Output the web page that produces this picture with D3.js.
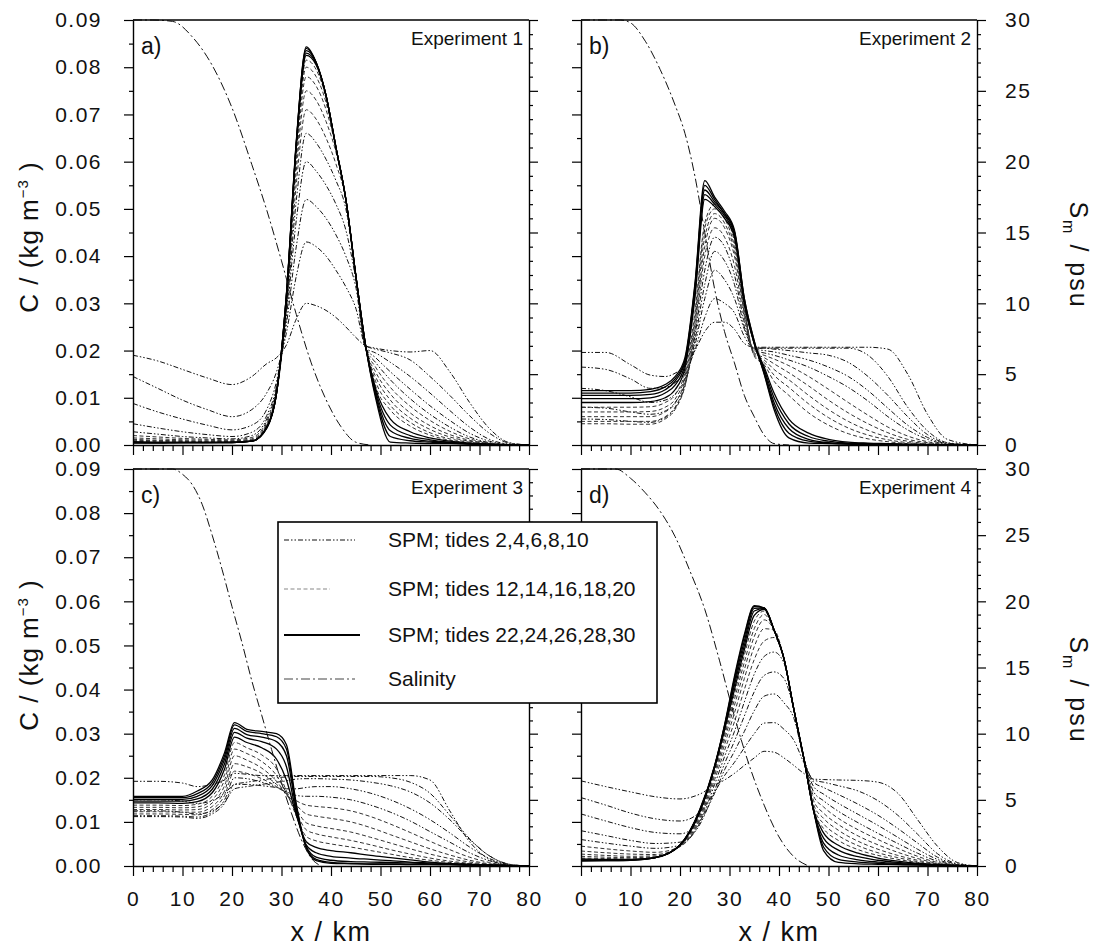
<!DOCTYPE html>
<html><head><meta charset="utf-8">
<script src="https://cdn.jsdelivr.net/npm/d3@7"></script>
<style>
body{margin:0;background:#fff;}
svg text{font-family:"Liberation Sans",Arial,Helvetica,sans-serif;fill:#111;}
</style></head><body>
<svg id="chart" width="1101" height="949"></svg>
<script>
// ---------- categories / ticks ----------
const tides = [2,4,6,8,10,12,14,16,18,20,22,24,26,28,30];
const xTicks = [0,10,20,30,40,50,60,70,80];
const cTicks = [0,0.01,0.02,0.03,0.04,0.05,0.06,0.07,0.08,0.09];
const sTicks = [0,5,10,15,20,25,30];
const panelLabels = ["a)","b)","c)","d)"];
const panelTitles = ["Experiment 1","Experiment 2","Experiment 3","Experiment 4"];
const legendLabels = ["SPM; tides 2,4,6,8,10","SPM; tides 12,14,16,18,20","SPM; tides 22,24,26,28,30","Salinity"];

// ---------- Experiment 1 (SPM, kg m-3) ----------
const xA = [0,5,10,15,20,24,27,29,31,33,35,37,39,41,43,45,47,49,52,56,60,64,68,72,76,80];
const spmA = [
 [.019,.0178,.016,.0142,.0128,.0145,.0172,.0185,.0212,.0267,.030,.0295,.0285,.027,.025,.0228,.021,.0205,.0200,.0197,.0200,.0155,.009,.0035,.0005,0],
 [.0145,.012,.0095,.0075,.006,.0075,.011,.0155,.0238,.0358,.043,.042,.040,.037,.0335,.029,.021,.0203,.0195,.018,.0145,.0105,.0062,.0025,.0004,0],
 [.0088,.007,.0055,.0042,.0032,.0042,.0075,.0135,.0256,.0421,.052,.0505,.048,.0445,.040,.0335,.0205,.0195,.0175,.0145,.011,.0073,.0038,.0012,.0002,0],
 [.0045,.0036,.0028,.0022,.0018,.0027,.0062,.0125,.0272,.0477,.060,.058,.055,.051,.0455,.035,.0205,.0185,.0155,.0118,.0083,.0052,.0025,.0008,.0001,0],
 [.0028,.0023,.0018,.0015,.0013,.002,.0055,.012,.0284,.0519,.066,.064,.0605,.056,.050,.036,.0205,.0175,.0138,.0098,.0065,.0038,.0017,.0005,.0001,0],
 [.002,.0017,.0014,.0012,.0011,.0016,.005,.0118,.0294,.0554,.071,.069,.065,.0595,.052,.036,.0205,.0165,.0122,.0082,.0052,.0029,.0013,.0004,0,0],
 [.0015,.0013,.0011,.001,.0009,.0013,.0046,.0116,.0302,.0582,.075,.073,.0685,.062,.052,.036,.0205,.0155,.0108,.0068,.0041,.0022,.001,.0003,0,0],
 [.0012,.001,.0009,.0008,.0008,.0011,.0043,.0114,.0308,.0603,.078,.076,.071,.063,.052,.036,.0205,.0145,.0095,.0057,.0033,.0017,.0008,.0003,0,0],
 [.001,.0009,.0008,.0007,.0007,.001,.0041,.0113,.0312,.0617,.080,.078,.0725,.063,.052,.036,.021,.0135,.0084,.0048,.0026,.0013,.0006,.0002,0,0],
 [.0008,.0007,.0007,.0006,.0006,.0009,.004,.0112,.0315,.0628,.0815,.0795,.0735,.063,.052,.036,.021,.0125,.0074,.004,.0021,.001,.0005,.0002,0,0],
 [.0007,.0006,.0006,.0006,.0006,.0008,.0038,.0111,.0317,.0635,.0825,.0805,.074,.063,.052,.036,.021,.012,.0055,.0028,.0015,.0008,.0004,.0002,0,0],
 [.0006,.0005,.0005,.0005,.0005,.0008,.0037,.011,.0318,.0638,.083,.0808,.074,.063,.052,.036,.021,.0115,.0042,.002,.0011,.0006,.0003,.0002,0,0],
 [.0005,.0005,.0005,.0005,.0005,.0008,.0036,.011,.0319,.0642,.0835,.081,.074,.063,.052,.036,.021,.011,.003,.0014,.0008,.0005,.0003,.0001,0,0],
 [.0005,.0005,.0005,.0005,.0005,.0008,.0036,.011,.032,.0645,.084,.081,.074,.063,.052,.036,.021,.0105,.0018,.0009,.0006,.0004,.0002,.0001,0,0],
 [.0004,.0004,.0005,.0005,.0006,.0008,.0035,.011,.030,.064,.0843,.081,.074,.063,.052,.036,.021,.010,.0006,.0004,.0003,.0003,.0002,.0001,0,0]
];
const salXA = [0,4,8,12,16,20,24,27,30,33,36,39,42,45,48];
const salA  = [30,30,29.9,28.8,26.8,23.8,19.8,16.6,13,9.2,5.8,3.2,1.3,0.2,0];

// ---------- Experiment 2 ----------
const xB = [0,5,10,14,17,19,21,23,25,27,29,31,33,35,37,39,42,46,50,54,58,62,66,70,74,80];
const spmB = [
 [.0196,.0196,.017,.0148,.0145,.0152,.0168,.020,.024,.026,.026,.0245,.0215,.0207,.0207,.0207,.0207,.0207,.0207,.0207,.0207,.0203,.015,.0065,.0012,0],
 [.0165,.016,.014,.012,.0122,.0132,.0155,.020,.027,.031,.030,.028,.023,.0205,.0205,.0205,.0205,.0205,.0205,.0205,.019,.0145,.008,.003,.0005,0],
 [.012,.0115,.0102,.009,.0095,.0108,.014,.021,.031,.037,.035,.031,.0245,.0205,.0205,.0203,.020,.0195,.019,.0175,.0145,.0105,.006,.0022,.0004,0],
 [.008,.0078,.007,.0065,.0072,.009,.013,.022,.034,.041,.039,.034,.025,.0203,.020,.0197,.019,.018,.0165,.0145,.0115,.0078,.0042,.0016,.0003,0],
 [.0055,.0054,.005,.0048,.0058,.0078,.0125,.023,.037,.044,.042,.036,.026,.020,.0195,.019,.018,.0165,.0145,.0122,.0093,.006,.0032,.0012,.0002,0],
 [.0045,.0045,.0044,.0044,.0055,.0075,.0125,.024,.040,.046,.044,.038,.027,.0197,.019,.0182,.0168,.0145,.0118,.009,.0063,.0038,.0019,.0007,.0001,0],
 [.005,.005,.005,.005,.006,.008,.013,.025,.042,.048,.046,.040,.028,.0195,.0185,.0172,.0153,.0125,.0095,.0068,.0045,.0026,.0012,.0005,.0001,0],
 [.006,.006,.006,.006,.007,.0088,.0138,.026,.044,.049,.047,.041,.028,.0193,.018,.016,.0138,.0105,.0075,.005,.0031,.0017,.0008,.0003,.0001,0],
 [.007,.007,.007,.0071,.008,.0097,.0146,.027,.046,.050,.048,.042,.029,.019,.0175,.0148,.0122,.0087,.0058,.0036,.0021,.0011,.0005,.0002,0,0],
 [.008,.008,.008,.0081,.009,.0106,.0154,.028,.047,.051,.049,.043,.029,.0188,.017,.0135,.0105,.0068,.0042,.0024,.0013,.0007,.0003,.0001,0,0],
 [.009,.009,.009,.0092,.010,.0117,.0163,.031,.052,.0505,.048,.044,.030,.0215,.0165,.011,.0055,.0025,.0012,.0006,.0004,.0003,.0002,.0001,0,0],
 [.0098,.0098,.0098,.01,.011,.0127,.017,.032,.053,.051,.0485,.0445,.030,.0215,.016,.010,.0045,.0018,.0008,.0004,.0003,.0002,.0001,.0001,0,0],
 [.0105,.0105,.0105,.0107,.0117,.0135,.0176,.033,.054,.0515,.049,.045,.0305,.0215,.0155,.009,.0035,.0012,.0005,.0003,.0002,.0001,.0001,0,0,0],
 [.011,.011,.011,.0113,.0123,.014,.018,.0335,.055,.052,.049,.0452,.031,.022,.0152,.0082,.0025,.0008,.0004,.0002,.0001,.0001,0,0,0,0],
 [.0115,.0115,.0115,.0118,.0128,.0145,.0185,.034,.056,.0525,.0495,.0455,.031,.022,.015,.0075,.0015,.0004,.0003,.0002,.0001,.0001,0,0,0,0]
];
const salXB = [0,5,8,10,13,16,19,21,23,25,27,29,31,33,35,37,39,42];
const salB  = [30,30,30,29.8,28.5,26.5,24,22,19,15,11,8,5.8,3.5,2,0.7,0.1,0];

// ---------- Experiment 3 ----------
const xC = [0,5,10,13,16,18.5,20.5,23,26,29,31,33,35,37,40,44,48,52,56,60,64,68,72,76,80];
const spmC = [
 [.0192,.0192,.0188,.018,.0185,.0195,.021,.0208,.0205,.0205,.0205,.0205,.0205,.0205,.0205,.0205,.0205,.0205,.0205,.0195,.0125,.0055,.0015,.0002,0],
 [.0150,.0150,.0147,.0142,.0148,.0165,.0185,.019,.0195,.020,.0202,.0203,.0203,.0203,.0203,.0203,.0203,.020,.019,.0165,.0115,.0062,.0023,.0004,0],
 [.0125,.0125,.0122,.0118,.0125,.0145,.0175,.018,.0185,.019,.0193,.0197,.0198,.0198,.0197,.0195,.019,.0182,.0168,.0143,.0105,.006,.0023,.0004,0],
 [.0112,.0112,.0111,.0108,.0118,.0142,.0185,.0185,.0182,.0178,.0175,.0175,.0178,.018,.018,.0175,.0165,.015,.013,.0105,.0075,.0043,.0017,.0003,0],
 [.0114,.0114,.0113,.0111,.0122,.015,.020,.0198,.019,.0178,.0168,.016,.0158,.0158,.0156,.015,.0138,.0122,.0102,.0078,.0054,.003,.0012,.0002,0],
 [.0118,.0118,.0117,.0116,.0128,.016,.0215,.021,.0198,.018,.0165,.0148,.0138,.0135,.0132,.0125,.0112,.0095,.0076,.0056,.0037,.002,.0008,.0001,0],
 [.0123,.0123,.0122,.0122,.0135,.017,.0232,.0225,.021,.0185,.0163,.0138,.0118,.0113,.0108,.010,.0087,.0071,.0055,.0039,.0025,.0013,.0005,.0001,0],
 [.0128,.0128,.0127,.0128,.0143,.0182,.025,.024,.0222,.0192,.0162,.0128,.0098,.0091,.0085,.0077,.0065,.0052,.0039,.0027,.0017,.0009,.0004,.0001,0],
 [.0133,.0133,.0132,.0134,.015,.0195,.0265,.0255,.0237,.0205,.0165,.012,.0082,.0073,.0066,.0058,.0048,.0037,.0027,.0018,.0011,.0006,.0003,.0001,0],
 [.0138,.0138,.0137,.014,.0158,.0207,.028,.0268,.0252,.022,.017,.0113,.0067,.0057,.005,.0043,.0035,.0027,.0019,.0013,.0008,.0005,.0002,.0001,0],
 [.0143,.0143,.0142,.0146,.0166,.022,.0292,.028,.0268,.0242,.0195,.0115,.0055,.0042,.0035,.003,.0024,.0019,.0014,.0009,.0006,.0004,.0002,.0001,0],
 [.0147,.0147,.0147,.0152,.0174,.0232,.0303,.029,.0282,.0265,.0225,.012,.0048,.003,.0022,.0018,.0015,.0012,.0009,.0007,.0005,.0003,.0002,.0001,0],
 [.0151,.0151,.0151,.0158,.0182,.0242,.0312,.0298,.0292,.0282,.025,.0128,.0045,.002,.0013,.001,.0009,.0008,.0007,.0005,.0004,.0003,.0002,.0001,0],
 [.0155,.0155,.0155,.0164,.0189,.025,.032,.0305,.030,.0293,.0265,.0135,.0042,.0015,.0008,.0006,.0005,.0005,.0004,.0004,.0003,.0002,.0002,.0001,0],
 [.0158,.0158,.0158,.017,.0195,.0257,.0325,.031,.0305,.030,.0275,.014,.004,.0012,.0006,.0005,.0004,.0004,.0003,.0003,.0003,.0002,.0002,.0001,0]
];
const salXC = [0,5,8,10,12,14,16,18,20,22,24,26,28,30,32,34,36,38];
const salC  = [30,30,30,29.6,28.8,27.3,25,22.4,19.6,16.9,14,11.4,8.8,6.3,4,2,0.6,0];

// ---------- Experiment 4 ----------
const xD = [0,5,10,15,20,24,27,29,31,33,35,37,39,41,43,45,47,49,52,56,60,64,68,72,76,80];
const spmD = [
 [.0193,.018,.0168,.0157,.0152,.0163,.0183,.0195,.021,.0228,.0245,.026,.0258,.0245,.0228,.021,.0197,.0196,.0195,.0194,.019,.0165,.0105,.0045,.0008,0],
 [.0155,.0138,.012,.0107,.0102,.0122,.0168,.0205,.0235,.0268,.030,.0324,.0325,.031,.0285,.0235,.0195,.019,.0182,.017,.0148,.0115,.0072,.0028,.0005,0],
 [.0118,.0102,.0087,.0076,.0073,.0102,.0165,.0218,.026,.0305,.0352,.0385,.039,.037,.0335,.0245,.019,.0178,.0162,.014,.0115,.0085,.0052,.002,.0004,0],
 [.008,.0069,.0058,.0051,.0054,.0094,.0172,.0232,.0283,.034,.0395,.0432,.044,.0425,.0355,.0245,.018,.0163,.0142,.0117,.0092,.0065,.0038,.0015,.0003,0],
 [.006,.0052,.0045,.004,.0047,.0098,.0185,.0248,.0305,.0372,.0435,.0475,.0485,.046,.0355,.0245,.0168,.0148,.0124,.0098,.0074,.0051,.0029,.0011,.0002,0],
 [.0045,.0039,.0034,.0031,.0044,.0103,.0196,.0262,.0327,.040,.0468,.051,.0518,.047,.0355,.0245,.0158,.0134,.0108,.0082,.006,.004,.0022,.0008,.0002,0],
 [.0034,.003,.0027,.0026,.0044,.0108,.0205,.0275,.0347,.0425,.0497,.0538,.0535,.047,.0355,.0245,.0148,.012,.0094,.0068,.0048,.0031,.0017,.0006,.0001,0],
 [.0027,.0024,.0022,.0023,.0045,.0113,.0212,.0286,.0364,.0445,.052,.0558,.0535,.047,.0355,.0245,.0139,.0108,.0081,.0056,.0038,.0024,.0013,.0005,.0001,0],
 [.0022,.002,.0019,.0021,.0046,.0117,.0217,.0295,.0378,.0462,.0538,.057,.0535,.047,.0355,.0245,.0132,.0096,.0069,.0046,.003,.0019,.001,.0004,.0001,0],
 [.0018,.0017,.0016,.002,.0046,.012,.022,.0302,.039,.0478,.0555,.0578,.0535,.047,.0355,.0245,.0127,.0085,.0058,.0037,.0024,.0015,.0008,.0003,.0001,0],
 [.0016,.0015,.0015,.0019,.0047,.0122,.0223,.0308,.040,.049,.0568,.0582,.0535,.047,.0355,.0245,.0126,.0075,.0047,.0029,.0018,.0011,.0006,.0003,.0001,0],
 [.0014,.0014,.0014,.0019,.0047,.0124,.0225,.0313,.041,.050,.0578,.0584,.0535,.047,.0355,.0245,.0125,.0063,.0036,.0021,.0013,.0008,.0005,.0002,.0001,0],
 [.0013,.0013,.0014,.0019,.0048,.0126,.0226,.0316,.0418,.051,.0584,.0585,.0535,.047,.0355,.0245,.0125,.0052,.0025,.0014,.0009,.0006,.0004,.0002,.0001,0],
 [.0012,.0012,.0013,.0019,.0048,.0127,.0227,.0318,.0425,.052,.0588,.0585,.0535,.047,.0355,.0245,.0125,.0043,.0015,.0009,.0006,.0004,.0003,.0002,.0001,0],
 [.0011,.0012,.0013,.0019,.0048,.0128,.0228,.032,.043,.0525,.059,.0585,.0535,.047,.0355,.0245,.0125,.0035,.0008,.0005,.0004,.0003,.0002,.0001,0,0]
];
const salXD = [0,4,7,10,13,16,19,22,25,28,31,34,37,40,43,46];
const salD  = [30,30,30,29.3,28.2,26.8,24.9,22.3,19.4,15.5,11.3,7.6,4.6,2.2,0.7,0];

// ---------- layout ----------
const svg = d3.select("#chart");
const cols = [{x0:133,x1:529},{x0:581,x1:977}];
const rows = [{yt:20,yb:445},{yt:469,yb:866}];
const panels = [
  {col:0,row:0,xs:xA,spm:spmA,sx:salXA,sal:salA},
  {col:1,row:0,xs:xB,spm:spmB,sx:salXB,sal:salB},
  {col:0,row:1,xs:xC,spm:spmC,sx:salXC,sal:salC},
  {col:1,row:1,xs:xD,spm:spmD,sx:salXD,sal:salD}
];
const FONT = '"Liberation Sans",Arial,Helvetica,sans-serif';
const groupStyle = [
  {dash:"5,2,1.5,2,1.5,2", w:1.0, c:"#111"},
  {dash:"4,2.5", w:1.0, c:"#333"},
  {dash:null, w:1.3, c:"#000"}
];
const salStyle = {dash:"9,3,2,3", w:1.0, c:"#111"};

function styleAxis(g, fs){
  g.attr("font-family", FONT).attr("font-size", fs);
  g.selectAll("line").attr("stroke","#000").attr("stroke-width",1.2);
  g.selectAll("path.domain").attr("stroke","#000").attr("stroke-width",1.4);
  g.selectAll("text").attr("fill","#111").attr("letter-spacing","1.5px");
}

panels.forEach((p, pi) => {
  const {x0,x1} = cols[p.col];
  const {yt,yb} = rows[p.row];
  const xs = d3.scaleLinear().domain([0,80]).range([x0,x1]);
  const yC = d3.scaleLinear().domain([0,0.09]).range([yb,yt]);
  const yS = d3.scaleLinear().domain([0,30]).range([yb,yt]);
  const g = svg.append("g");

  const clipId = "clip"+pi;
  svg.append("clipPath").attr("id",clipId).append("rect")
    .attr("x",x0).attr("y",yt-1).attr("width",x1-x0).attr("height",yb-yt+1);

  const plot = g.append("g").attr("clip-path",`url(#${clipId})`);
  const line = d3.line().x((d)=>xs(d[0])).y((d)=>yC(d[1])).curve(d3.curveMonotoneX);
  [0,1,2].forEach(gr => {
    p.spm.forEach((vals, i) => {
      const grp = i < 5 ? 0 : (i < 10 ? 1 : 2);
      if (grp !== gr) return;
      const st = groupStyle[grp];
      plot.append("path")
        .attr("d", line(p.xs.map((x,k)=>[x, vals[k]])))
        .attr("fill","none").attr("stroke",st.c).attr("stroke-width",st.w)
        .attr("stroke-dasharray", st.dash);
    });
  });
  const sline = d3.line().x((d)=>xs(d[0])).y((d)=>yS(d[1])).curve(d3.curveMonotoneX);
  plot.append("path").attr("d", sline(p.sx.map((x,k)=>[x,p.sal[k]])))
    .attr("fill","none").attr("stroke",salStyle.c).attr("stroke-width",salStyle.w)
    .attr("stroke-dasharray",salStyle.dash);

  // top frame
  g.append("line").attr("x1",x0).attr("x2",x1).attr("y1",yt).attr("y2",yt)
    .attr("stroke","#000").attr("stroke-width",1.4);

  // left axis (C)
  const gl = g.append("g").attr("transform",`translate(${x0},0)`)
    .call(d3.axisLeft(yC).tickValues(cTicks).tickSize(9).tickPadding(22).tickSizeOuter(0)
      .tickFormat(p.col===0 ? d3.format(".2f") : ()=>""));
  styleAxis(gl, 21);
  const glm = g.append("g").attr("transform",`translate(${x0},0)`)
    .call(d3.axisLeft(yC).tickValues(d3.range(0.005,0.09,0.01)).tickSize(4).tickFormat(()=>""));
  glm.select(".domain").remove(); styleAxis(glm, 10);

  // right axis (S)
  const gr = g.append("g").attr("transform",`translate(${x1},0)`)
    .call(d3.axisRight(yS).tickValues(sTicks).tickSize(9).tickPadding(19).tickSizeOuter(0)
      .tickFormat(p.col===1 ? d3.format("d") : ()=>""));
  styleAxis(gr, 21);
  const grm = g.append("g").attr("transform",`translate(${x1},0)`)
    .call(d3.axisRight(yS).tickValues(d3.range(1,30,1).filter(v=>v%5!==0)).tickSize(4).tickFormat(()=>""));
  grm.select(".domain").remove(); styleAxis(grm, 10);

  // bottom axis (x)
  const gb = g.append("g").attr("transform",`translate(0,${yb})`)
    .call(d3.axisBottom(xs).tickValues(xTicks).tickSize(10).tickPadding(15).tickSizeOuter(0)
      .tickFormat(p.row===1 ? d3.format("d") : ()=>""));
  styleAxis(gb, 21);
  const gbm = g.append("g").attr("transform",`translate(0,${yb})`)
    .call(d3.axisBottom(xs).tickValues(d3.range(2,80,2).filter(v=>v%10!==0)).tickSize(6).tickFormat(()=>""));
  gbm.select(".domain").remove(); styleAxis(gbm, 10);

  // panel labels
  g.append("text").attr("x",x0+8).attr("y",yt+34).attr("font-size",23).text(panelLabels[pi]);
  g.append("text").attr("x",x1-6).attr("y",yt+25).attr("text-anchor","end").attr("font-size",19).text(panelTitles[pi]);
});

// axis titles
[237, 655].forEach(cy => {
  const t = svg.append("text").attr("transform",`translate(38,${cy}) rotate(-90)`)
    .attr("text-anchor","middle").attr("font-size",26).attr("letter-spacing","1px");
  t.append("tspan").text("C / (kg m");
  t.append("tspan").attr("dy",-10).attr("font-size",15).text("\u22123");
  t.append("tspan").attr("dy",10).text(" )");
});
[255, 690].forEach(cy => {
  const t = svg.append("text").attr("transform",`translate(1070,${cy}) rotate(90)`)
    .attr("text-anchor","middle").attr("font-size",25).attr("letter-spacing","2px");
  t.append("tspan").text("S");
  t.append("tspan").attr("dy",7).attr("font-size",16).text("m");
  t.append("tspan").attr("dy",-7).text(" / psu");
});
[cols[0], cols[1]].forEach(c => {
  svg.append("text").attr("x",(c.x0+c.x1)/2).attr("y",941).attr("text-anchor","middle")
    .attr("font-size",27).attr("letter-spacing","1.5px").text("x / km");
});

// legend
const lg = svg.append("g");
lg.append("rect").attr("x",278).attr("y",522).attr("width",379).attr("height",181)
  .attr("fill","#fff").attr("stroke","#000").attr("stroke-width",1.6);
const legY = [540, 589, 635, 679];
const legStyles = [groupStyle[0], groupStyle[1], groupStyle[2], salStyle];
const legX2 = [355, 330, 360, 355];
legendLabels.forEach((lab,i) => {
  const st = legStyles[i];
  lg.append("line").attr("x1",284).attr("x2",legX2[i]).attr("y1",legY[i]).attr("y2",legY[i])
    .attr("stroke", i===1 ? "#888" : (i===3 ? "#444" : st.c)).attr("stroke-width", i===2 ? 1.8 : 1.2)
    .attr("stroke-dasharray", st.dash);
  lg.append("text").attr("x",388).attr("y",legY[i]+7).attr("font-size",21).text(lab);
});
</script>
</body></html>
